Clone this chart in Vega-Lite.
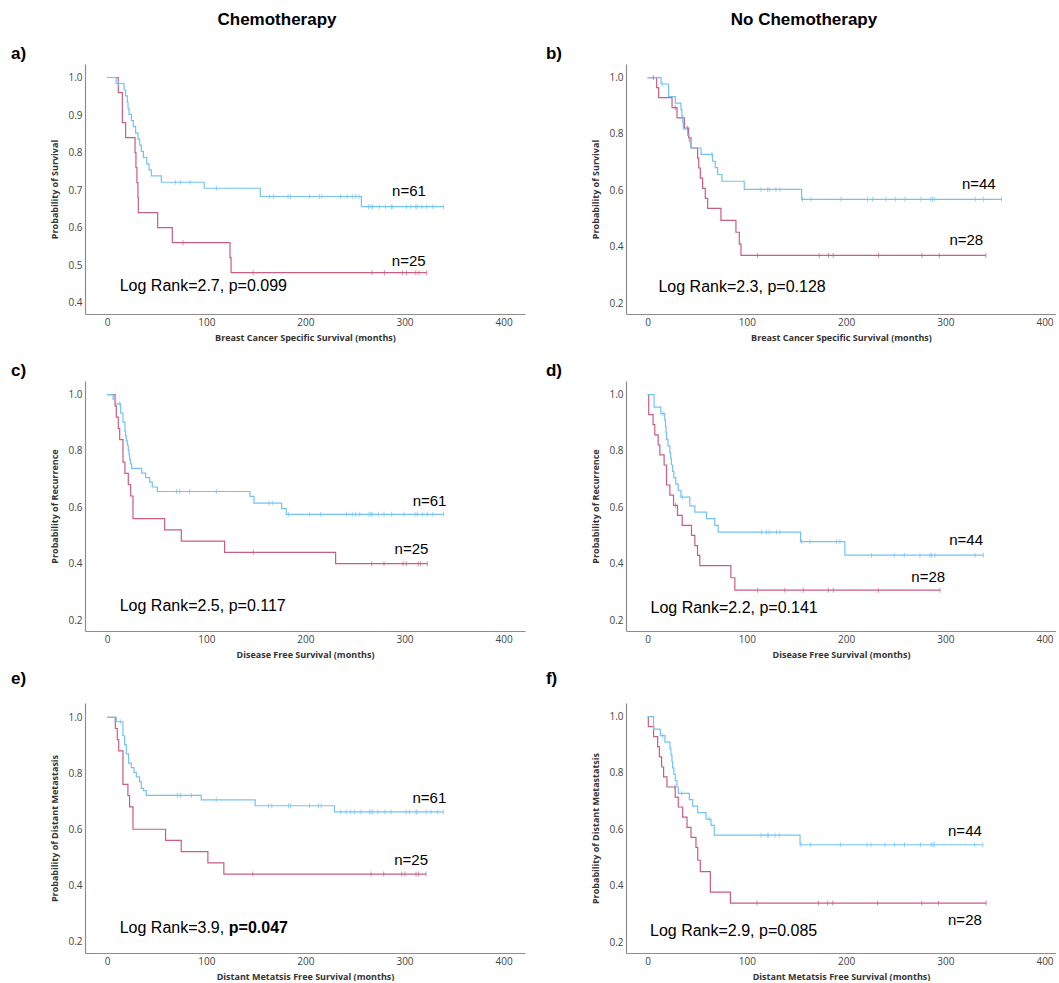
{
"$schema": "https://vega.github.io/schema/vega-lite/v6.json",
"padding": {"left": 10, "top": 5, "right": 0, "bottom": 0},
"config": {
 "view": {"stroke": null},
 "font": "Liberation Sans",
 "axis": {"grid": false, "ticks": false, "domainColor": "#8c8c8c", "domainWidth": 1.2, "labelFont": "Open Sans", "labelFontSize": 10, "labelColor": "#444444", "titleFont": "Open Sans", "titleFontSize": 9, "titleFontWeight": "bold", "titleColor": "#333333", "labelPadding": 3},
 "axisX": {"titlePadding": 6},
 "axisY": {"titlePadding": 8},
 "title": {"font": "Liberation Sans", "fontSize": 17, "fontWeight": "bold", "anchor": "start", "frame": "bounds", "color": "#000000", "baseline": "bottom"},
 "line": {"interpolate": "step-after", "strokeWidth": 1.2},
 "tick": {"orient": "vertical", "size": 5, "thickness": 1},
 "text": {"font": "Liberation Sans", "fontSize": 15, "color": "#000000", "baseline": "middle"}
},
"datasets": {
 "curves": [
  {"p":"a","g":"g2","t":0,"s":1},{"p":"a","g":"g2","t":11.2,"s":0.96},{"p":"a","g":"g2","t":15.3,"s":0.88},{"p":"a","g":"g2","t":18.6,"s":0.84},{"p":"a","g":"g2","t":28.1,"s":0.80},{"p":"a","g":"g2","t":29,"s":0.76},{"p":"a","g":"g2","t":30,"s":0.72},{"p":"a","g":"g2","t":31,"s":0.68},{"p":"a","g":"g2","t":31.4,"s":0.64},{"p":"a","g":"g2","t":50.9,"s":0.60},{"p":"a","g":"g2","t":65.7,"s":0.56},{"p":"a","g":"g2","t":123.9,"s":0.52},{"p":"a","g":"g2","t":125,"s":0.48},{"p":"a","g":"g2","t":322.4,"s":0.48},
  {"p":"a","g":"g1","t":0,"s":1},{"p":"a","g":"g1","t":9,"s":0.984},{"p":"a","g":"g1","t":17,"s":0.967},{"p":"a","g":"g1","t":18.6,"s":0.951},{"p":"a","g":"g1","t":20.3,"s":0.934},{"p":"a","g":"g1","t":21,"s":0.918},{"p":"a","g":"g1","t":22,"s":0.902},{"p":"a","g":"g1","t":24.4,"s":0.885},{"p":"a","g":"g1","t":26.4,"s":0.869},{"p":"a","g":"g1","t":28.7,"s":0.852},{"p":"a","g":"g1","t":31.1,"s":0.836},{"p":"a","g":"g1","t":32.8,"s":0.820},{"p":"a","g":"g1","t":34.4,"s":0.803},{"p":"a","g":"g1","t":36.5,"s":0.787},{"p":"a","g":"g1","t":39.8,"s":0.770},{"p":"a","g":"g1","t":42.2,"s":0.754},{"p":"a","g":"g1","t":44.5,"s":0.738},{"p":"a","g":"g1","t":54.6,"s":0.721},{"p":"a","g":"g1","t":97.9,"s":0.705},{"p":"a","g":"g1","t":154.5,"s":0.683},{"p":"a","g":"g1","t":256.5,"s":0.656},{"p":"a","g":"g1","t":339.4,"s":0.656},
  {"p":"b","g":"g2","t":0,"s":1},{"p":"b","g":"g2","t":9.1,"s":0.964},{"p":"b","g":"g2","t":11.1,"s":0.929},{"p":"b","g":"g2","t":24.6,"s":0.893},{"p":"b","g":"g2","t":29.6,"s":0.857},{"p":"b","g":"g2","t":37,"s":0.821},{"p":"b","g":"g2","t":41.3,"s":0.786},{"p":"b","g":"g2","t":43.7,"s":0.75},{"p":"b","g":"g2","t":50.4,"s":0.714},{"p":"b","g":"g2","t":51.5,"s":0.679},{"p":"b","g":"g2","t":53.1,"s":0.643},{"p":"b","g":"g2","t":55.4,"s":0.607},{"p":"b","g":"g2","t":58.1,"s":0.571},{"p":"b","g":"g2","t":60.5,"s":0.536},{"p":"b","g":"g2","t":73.9,"s":0.493},{"p":"b","g":"g2","t":89,"s":0.451},{"p":"b","g":"g2","t":92.4,"s":0.41},{"p":"b","g":"g2","t":94.1,"s":0.369},{"p":"b","g":"g2","t":340.9,"s":0.369},
  {"p":"b","g":"g1","t":0,"s":1},{"p":"b","g":"g1","t":13.5,"s":0.977},{"p":"b","g":"g1","t":21,"s":0.955},{"p":"b","g":"g1","t":21.2,"s":0.932},{"p":"b","g":"g1","t":27.9,"s":0.909},{"p":"b","g":"g1","t":33.6,"s":0.886},{"p":"b","g":"g1","t":34.5,"s":0.864},{"p":"b","g":"g1","t":35.3,"s":0.841},{"p":"b","g":"g1","t":36,"s":0.818},{"p":"b","g":"g1","t":40.3,"s":0.795},{"p":"b","g":"g1","t":42,"s":0.773},{"p":"b","g":"g1","t":43.7,"s":0.75},{"p":"b","g":"g1","t":53.8,"s":0.727},{"p":"b","g":"g1","t":65.5,"s":0.703},{"p":"b","g":"g1","t":68.2,"s":0.68},{"p":"b","g":"g1","t":70.6,"s":0.656},{"p":"b","g":"g1","t":74.9,"s":0.632},{"p":"b","g":"g1","t":97.4,"s":0.603},{"p":"b","g":"g1","t":155.2,"s":0.568},{"p":"b","g":"g1","t":356.7,"s":0.568},
  {"p":"c","g":"g2","t":0,"s":1},{"p":"c","g":"g2","t":7.9,"s":0.96},{"p":"c","g":"g2","t":9.2,"s":0.92},{"p":"c","g":"g2","t":11.2,"s":0.88},{"p":"c","g":"g2","t":12.6,"s":0.84},{"p":"c","g":"g2","t":15.9,"s":0.76},{"p":"c","g":"g2","t":17.9,"s":0.72},{"p":"c","g":"g2","t":21.3,"s":0.68},{"p":"c","g":"g2","t":23.7,"s":0.64},{"p":"c","g":"g2","t":26,"s":0.56},{"p":"c","g":"g2","t":58,"s":0.52},{"p":"c","g":"g2","t":74.8,"s":0.48},{"p":"c","g":"g2","t":118.5,"s":0.44},{"p":"c","g":"g2","t":230.5,"s":0.40},{"p":"c","g":"g2","t":323,"s":0.40},
  {"p":"c","g":"g1","t":0,"s":1},{"p":"c","g":"g1","t":5.9,"s":0.984},{"p":"c","g":"g1","t":8.5,"s":0.967},{"p":"c","g":"g1","t":13.6,"s":0.934},{"p":"c","g":"g1","t":15.9,"s":0.902},{"p":"c","g":"g1","t":17.9,"s":0.869},{"p":"c","g":"g1","t":18.6,"s":0.852},{"p":"c","g":"g1","t":19.3,"s":0.836},{"p":"c","g":"g1","t":20.3,"s":0.820},{"p":"c","g":"g1","t":21.3,"s":0.803},{"p":"c","g":"g1","t":22,"s":0.787},{"p":"c","g":"g1","t":22.7,"s":0.770},{"p":"c","g":"g1","t":23.5,"s":0.754},{"p":"c","g":"g1","t":24.7,"s":0.738},{"p":"c","g":"g1","t":34.8,"s":0.721},{"p":"c","g":"g1","t":38.8,"s":0.705},{"p":"c","g":"g1","t":42.9,"s":0.689},{"p":"c","g":"g1","t":45.5,"s":0.672},{"p":"c","g":"g1","t":50.6,"s":0.656},{"p":"c","g":"g1","t":144.1,"s":0.639},{"p":"c","g":"g1","t":148.1,"s":0.615},{"p":"c","g":"g1","t":176,"s":0.595},{"p":"c","g":"g1","t":180.7,"s":0.575},{"p":"c","g":"g1","t":339.4,"s":0.575},
  {"p":"d","g":"g2","t":0,"s":1},{"p":"d","g":"g2","t":1.1,"s":0.929},{"p":"d","g":"g2","t":5.5,"s":0.893},{"p":"d","g":"g2","t":7.2,"s":0.857},{"p":"d","g":"g2","t":10.6,"s":0.821},{"p":"d","g":"g2","t":12.3,"s":0.786},{"p":"d","g":"g2","t":16.6,"s":0.75},{"p":"d","g":"g2","t":19,"s":0.679},{"p":"d","g":"g2","t":22.4,"s":0.643},{"p":"d","g":"g2","t":26.1,"s":0.607},{"p":"d","g":"g2","t":30.1,"s":0.571},{"p":"d","g":"g2","t":34.8,"s":0.536},{"p":"d","g":"g2","t":44.2,"s":0.50},{"p":"d","g":"g2","t":47.6,"s":0.464},{"p":"d","g":"g2","t":50.3,"s":0.429},{"p":"d","g":"g2","t":52.6,"s":0.393},{"p":"d","g":"g2","t":83.9,"s":0.35},{"p":"d","g":"g2","t":87.9,"s":0.306},{"p":"d","g":"g2","t":294.7,"s":0.306},
  {"p":"d","g":"g1","t":0,"s":1},{"p":"d","g":"g1","t":6.5,"s":0.955},{"p":"d","g":"g1","t":13.3,"s":0.932},{"p":"d","g":"g1","t":17.3,"s":0.909},{"p":"d","g":"g1","t":18,"s":0.886},{"p":"d","g":"g1","t":18.5,"s":0.864},{"p":"d","g":"g1","t":19,"s":0.841},{"p":"d","g":"g1","t":20.5,"s":0.818},{"p":"d","g":"g1","t":22.4,"s":0.795},{"p":"d","g":"g1","t":23.2,"s":0.773},{"p":"d","g":"g1","t":24,"s":0.75},{"p":"d","g":"g1","t":25.2,"s":0.727},{"p":"d","g":"g1","t":26.4,"s":0.705},{"p":"d","g":"g1","t":28.4,"s":0.682},{"p":"d","g":"g1","t":30.8,"s":0.659},{"p":"d","g":"g1","t":33.5,"s":0.636},{"p":"d","g":"g1","t":42.5,"s":0.605},{"p":"d","g":"g1","t":47.6,"s":0.583},{"p":"d","g":"g1","t":59.3,"s":0.56},{"p":"d","g":"g1","t":67.7,"s":0.536},{"p":"d","g":"g1","t":71.1,"s":0.512},{"p":"d","g":"g1","t":154.2,"s":0.478},{"p":"d","g":"g1","t":198.8,"s":0.43},{"p":"d","g":"g1","t":338.4,"s":0.43},
  {"p":"e","g":"g2","t":0,"s":1},{"p":"e","g":"g2","t":8.2,"s":0.96},{"p":"e","g":"g2","t":10.2,"s":0.92},{"p":"e","g":"g2","t":11.6,"s":0.88},{"p":"e","g":"g2","t":15.9,"s":0.76},{"p":"e","g":"g2","t":20.9,"s":0.72},{"p":"e","g":"g2","t":22.6,"s":0.68},{"p":"e","g":"g2","t":26,"s":0.60},{"p":"e","g":"g2","t":58.9,"s":0.56},{"p":"e","g":"g2","t":74.7,"s":0.52},{"p":"e","g":"g2","t":101.6,"s":0.48},{"p":"e","g":"g2","t":117.7,"s":0.44},{"p":"e","g":"g2","t":321.7,"s":0.44},
  {"p":"e","g":"g1","t":0,"s":1},{"p":"e","g":"g1","t":9.2,"s":0.984},{"p":"e","g":"g1","t":15.9,"s":0.934},{"p":"e","g":"g1","t":17.6,"s":0.902},{"p":"e","g":"g1","t":19.3,"s":0.869},{"p":"e","g":"g1","t":21.6,"s":0.836},{"p":"e","g":"g1","t":24.3,"s":0.820},{"p":"e","g":"g1","t":27,"s":0.803},{"p":"e","g":"g1","t":29.4,"s":0.787},{"p":"e","g":"g1","t":32.7,"s":0.770},{"p":"e","g":"g1","t":34.4,"s":0.746},{"p":"e","g":"g1","t":36.7,"s":0.738},{"p":"e","g":"g1","t":39.4,"s":0.721},{"p":"e","g":"g1","t":94.9,"s":0.705},{"p":"e","g":"g1","t":149.3,"s":0.684},{"p":"e","g":"g1","t":229.3,"s":0.662},{"p":"e","g":"g1","t":339.1,"s":0.662},
  {"p":"f","g":"g2","t":0,"s":1},{"p":"f","g":"g2","t":0.7,"s":0.964},{"p":"f","g":"g2","t":6,"s":0.929},{"p":"f","g":"g2","t":10.1,"s":0.893},{"p":"f","g":"g2","t":11.8,"s":0.857},{"p":"f","g":"g2","t":14.1,"s":0.821},{"p":"f","g":"g2","t":16.1,"s":0.786},{"p":"f","g":"g2","t":19.5,"s":0.75},{"p":"f","g":"g2","t":27.8,"s":0.714},{"p":"f","g":"g2","t":30.9,"s":0.679},{"p":"f","g":"g2","t":35.3,"s":0.643},{"p":"f","g":"g2","t":39.7,"s":0.607},{"p":"f","g":"g2","t":43.7,"s":0.571},{"p":"f","g":"g2","t":48.7,"s":0.536},{"p":"f","g":"g2","t":50.5,"s":0.49},{"p":"f","g":"g2","t":53.1,"s":0.45},{"p":"f","g":"g2","t":63.2,"s":0.377},{"p":"f","g":"g2","t":83.4,"s":0.338},{"p":"f","g":"g2","t":341.2,"s":0.338},
  {"p":"f","g":"g1","t":0,"s":1},{"p":"f","g":"g1","t":6,"s":0.955},{"p":"f","g":"g1","t":12.8,"s":0.932},{"p":"f","g":"g1","t":17.5,"s":0.909},{"p":"f","g":"g1","t":22.5,"s":0.886},{"p":"f","g":"g1","t":23.5,"s":0.864},{"p":"f","g":"g1","t":24.5,"s":0.841},{"p":"f","g":"g1","t":25.2,"s":0.818},{"p":"f","g":"g1","t":26.5,"s":0.795},{"p":"f","g":"g1","t":27.9,"s":0.773},{"p":"f","g":"g1","t":29.5,"s":0.75},{"p":"f","g":"g1","t":30.9,"s":0.727},{"p":"f","g":"g1","t":42,"s":0.705},{"p":"f","g":"g1","t":45.4,"s":0.682},{"p":"f","g":"g1","t":50.4,"s":0.659},{"p":"f","g":"g1","t":58.8,"s":0.636},{"p":"f","g":"g1","t":63.9,"s":0.614},{"p":"f","g":"g1","t":67.2,"s":0.579},{"p":"f","g":"g1","t":153.6,"s":0.545},{"p":"f","g":"g1","t":337.9,"s":0.545}
 ],
 "censors": [
  {"p":"a","g":"g2","t":76.5,"s":0.56},{"p":"a","g":"g2","t":147.3,"s":0.48},{"p":"a","g":"g2","t":267.1,"s":0.48},{"p":"a","g":"g2","t":279.7,"s":0.48},{"p":"a","g":"g2","t":297.8,"s":0.48},{"p":"a","g":"g2","t":301.9,"s":0.48},{"p":"a","g":"g2","t":311.4,"s":0.48},{"p":"a","g":"g2","t":314.5,"s":0.48},{"p":"a","g":"g2","t":322.4,"s":0.48},
  {"p":"a","g":"g1","t":11.5,"s":0.984},{"p":"a","g":"g1","t":68.9,"s":0.721},{"p":"a","g":"g1","t":74,"s":0.721},{"p":"a","g":"g1","t":83.6,"s":0.721},{"p":"a","g":"g1","t":110.2,"s":0.705},{"p":"a","g":"g1","t":163.7,"s":0.683},{"p":"a","g":"g1","t":167.8,"s":0.683},{"p":"a","g":"g1","t":182.5,"s":0.683},{"p":"a","g":"g1","t":184.9,"s":0.683},{"p":"a","g":"g1","t":204,"s":0.683},{"p":"a","g":"g1","t":214.2,"s":0.683},{"p":"a","g":"g1","t":216.6,"s":0.683},{"p":"a","g":"g1","t":235.4,"s":0.683},{"p":"a","g":"g1","t":242.2,"s":0.683},{"p":"a","g":"g1","t":247.3,"s":0.683},{"p":"a","g":"g1","t":250.8,"s":0.683},{"p":"a","g":"g1","t":254.1,"s":0.683},{"p":"a","g":"g1","t":263.7,"s":0.656},{"p":"a","g":"g1","t":266.1,"s":0.656},{"p":"a","g":"g1","t":267.8,"s":0.656},{"p":"a","g":"g1","t":274.6,"s":0.656},{"p":"a","g":"g1","t":280.8,"s":0.656},{"p":"a","g":"g1","t":286.6,"s":0.656},{"p":"a","g":"g1","t":287.6,"s":0.656},{"p":"a","g":"g1","t":301.9,"s":0.656},{"p":"a","g":"g1","t":306.4,"s":0.656},{"p":"a","g":"g1","t":311.4,"s":0.656},{"p":"a","g":"g1","t":312.8,"s":0.656},{"p":"a","g":"g1","t":317.3,"s":0.656},{"p":"a","g":"g1","t":322.4,"s":0.656},{"p":"a","g":"g1","t":328.5,"s":0.656},{"p":"a","g":"g1","t":339.4,"s":0.656},
  {"p":"b","g":"g2","t":5.7,"s":1},{"p":"b","g":"g2","t":27.9,"s":0.893},{"p":"b","g":"g2","t":40.3,"s":0.821},{"p":"b","g":"g2","t":110.9,"s":0.369},{"p":"b","g":"g2","t":172.9,"s":0.369},{"p":"b","g":"g2","t":182.3,"s":0.369},{"p":"b","g":"g2","t":187,"s":0.369},{"p":"b","g":"g2","t":232.8,"s":0.369},{"p":"b","g":"g2","t":276.5,"s":0.369},{"p":"b","g":"g2","t":293.9,"s":0.369},{"p":"b","g":"g2","t":340.9,"s":0.369},
  {"p":"b","g":"g1","t":15.1,"s":0.977},{"p":"b","g":"g1","t":64.8,"s":0.727},{"p":"b","g":"g1","t":114.2,"s":0.603},{"p":"b","g":"g1","t":120.9,"s":0.603},{"p":"b","g":"g1","t":122.6,"s":0.603},{"p":"b","g":"g1","t":129.3,"s":0.603},{"p":"b","g":"g1","t":133.4,"s":0.603},{"p":"b","g":"g1","t":156.2,"s":0.568},{"p":"b","g":"g1","t":164.6,"s":0.568},{"p":"b","g":"g1","t":194.8,"s":0.568},{"p":"b","g":"g1","t":221.7,"s":0.568},{"p":"b","g":"g1","t":226.7,"s":0.568},{"p":"b","g":"g1","t":240.2,"s":0.568},{"p":"b","g":"g1","t":249.6,"s":0.568},{"p":"b","g":"g1","t":259.3,"s":0.568},{"p":"b","g":"g1","t":275.4,"s":0.568},{"p":"b","g":"g1","t":285.5,"s":0.568},{"p":"b","g":"g1","t":287.2,"s":0.568},{"p":"b","g":"g1","t":288.9,"s":0.568},{"p":"b","g":"g1","t":330.2,"s":0.568},{"p":"b","g":"g1","t":338.6,"s":0.568},{"p":"b","g":"g1","t":356.7,"s":0.568},
  {"p":"c","g":"g2","t":147.4,"s":0.44},{"p":"c","g":"g2","t":266.9,"s":0.4},{"p":"c","g":"g2","t":279.3,"s":0.4},{"p":"c","g":"g2","t":298.5,"s":0.4},{"p":"c","g":"g2","t":301.8,"s":0.4},{"p":"c","g":"g2","t":314,"s":0.4},{"p":"c","g":"g2","t":316.3,"s":0.4},{"p":"c","g":"g2","t":323,"s":0.4},
  {"p":"c","g":"g1","t":12.6,"s":0.967},{"p":"c","g":"g1","t":69.8,"s":0.656},{"p":"c","g":"g1","t":73.1,"s":0.656},{"p":"c","g":"g1","t":83.2,"s":0.656},{"p":"c","g":"g1","t":110.1,"s":0.656},{"p":"c","g":"g1","t":163.3,"s":0.615},{"p":"c","g":"g1","t":166.6,"s":0.615},{"p":"c","g":"g1","t":182.8,"s":0.575},{"p":"c","g":"g1","t":204.3,"s":0.575},{"p":"c","g":"g1","t":215.4,"s":0.575},{"p":"c","g":"g1","t":241.3,"s":0.575},{"p":"c","g":"g1","t":247.4,"s":0.575},{"p":"c","g":"g1","t":250.7,"s":0.575},{"p":"c","g":"g1","t":254.8,"s":0.575},{"p":"c","g":"g1","t":264.2,"s":0.575},{"p":"c","g":"g1","t":265.9,"s":0.575},{"p":"c","g":"g1","t":267.5,"s":0.575},{"p":"c","g":"g1","t":273.6,"s":0.575},{"p":"c","g":"g1","t":279.3,"s":0.575},{"p":"c","g":"g1","t":287,"s":0.575},{"p":"c","g":"g1","t":299.5,"s":0.575},{"p":"c","g":"g1","t":310.6,"s":0.575},{"p":"c","g":"g1","t":312.9,"s":0.575},{"p":"c","g":"g1","t":318,"s":0.575},{"p":"c","g":"g1","t":323,"s":0.575},{"p":"c","g":"g1","t":328.5,"s":0.575},{"p":"c","g":"g1","t":339.4,"s":0.575},
  {"p":"d","g":"g2","t":28.1,"s":0.607},{"p":"d","g":"g2","t":110.8,"s":0.306},{"p":"d","g":"g2","t":138.3,"s":0.306},{"p":"d","g":"g2","t":156.8,"s":0.306},{"p":"d","g":"g2","t":182,"s":0.306},{"p":"d","g":"g2","t":187.1,"s":0.306},{"p":"d","g":"g2","t":232.5,"s":0.306},{"p":"d","g":"g2","t":294.7,"s":0.306},
  {"p":"d","g":"g1","t":15.6,"s":0.932},{"p":"d","g":"g1","t":35.1,"s":0.636},{"p":"d","g":"g1","t":114.8,"s":0.512},{"p":"d","g":"g1","t":119.8,"s":0.512},{"p":"d","g":"g1","t":122.5,"s":0.512},{"p":"d","g":"g1","t":129.9,"s":0.512},{"p":"d","g":"g1","t":133.3,"s":0.512},{"p":"d","g":"g1","t":155.2,"s":0.478},{"p":"d","g":"g1","t":163.6,"s":0.478},{"p":"d","g":"g1","t":190.5,"s":0.478},{"p":"d","g":"g1","t":193.8,"s":0.478},{"p":"d","g":"g1","t":225.7,"s":0.43},{"p":"d","g":"g1","t":248.6,"s":0.43},{"p":"d","g":"g1","t":258.7,"s":0.43},{"p":"d","g":"g1","t":274.5,"s":0.43},{"p":"d","g":"g1","t":284.5,"s":0.43},{"p":"d","g":"g1","t":286.2,"s":0.43},{"p":"d","g":"g1","t":289.6,"s":0.43},{"p":"d","g":"g1","t":330,"s":0.43},{"p":"d","g":"g1","t":338.4,"s":0.43},
  {"p":"e","g":"g2","t":147,"s":0.44},{"p":"e","g":"g2","t":266.3,"s":0.44},{"p":"e","g":"g2","t":279,"s":0.44},{"p":"e","g":"g2","t":297.2,"s":0.44},{"p":"e","g":"g2","t":300.5,"s":0.44},{"p":"e","g":"g2","t":311.6,"s":0.44},{"p":"e","g":"g2","t":314,"s":0.44},{"p":"e","g":"g2","t":321.7,"s":0.44},
  {"p":"e","g":"g1","t":13.6,"s":0.984},{"p":"e","g":"g1","t":70.7,"s":0.721},{"p":"e","g":"g1","t":74,"s":0.721},{"p":"e","g":"g1","t":85.1,"s":0.721},{"p":"e","g":"g1","t":110,"s":0.705},{"p":"e","g":"g1","t":162.8,"s":0.684},{"p":"e","g":"g1","t":166.1,"s":0.684},{"p":"e","g":"g1","t":182.9,"s":0.684},{"p":"e","g":"g1","t":184.9,"s":0.684},{"p":"e","g":"g1","t":204.1,"s":0.684},{"p":"e","g":"g1","t":213.2,"s":0.684},{"p":"e","g":"g1","t":215.9,"s":0.684},{"p":"e","g":"g1","t":235.3,"s":0.662},{"p":"e","g":"g1","t":241.1,"s":0.662},{"p":"e","g":"g1","t":245.4,"s":0.662},{"p":"e","g":"g1","t":249.5,"s":0.662},{"p":"e","g":"g1","t":256.2,"s":0.662},{"p":"e","g":"g1","t":264.6,"s":0.662},{"p":"e","g":"g1","t":266.3,"s":0.662},{"p":"e","g":"g1","t":268,"s":0.662},{"p":"e","g":"g1","t":273,"s":0.662},{"p":"e","g":"g1","t":280.4,"s":0.662},{"p":"e","g":"g1","t":286.4,"s":0.662},{"p":"e","g":"g1","t":301.6,"s":0.662},{"p":"e","g":"g1","t":305,"s":0.662},{"p":"e","g":"g1","t":311.7,"s":0.662},{"p":"e","g":"g1","t":312.7,"s":0.662},{"p":"e","g":"g1","t":321.7,"s":0.662},{"p":"e","g":"g1","t":326.8,"s":0.662},{"p":"e","g":"g1","t":333.5,"s":0.662},{"p":"e","g":"g1","t":339.1,"s":0.662},
  {"p":"f","g":"g2","t":27.6,"s":0.75},{"p":"f","g":"g2","t":110.3,"s":0.338},{"p":"f","g":"g2","t":172.1,"s":0.338},{"p":"f","g":"g2","t":181.5,"s":0.338},{"p":"f","g":"g2","t":186.6,"s":0.338},{"p":"f","g":"g2","t":231.9,"s":0.338},{"p":"f","g":"g2","t":276.3,"s":0.338},{"p":"f","g":"g2","t":293.1,"s":0.338},{"p":"f","g":"g2","t":341.2,"s":0.338},
  {"p":"f","g":"g1","t":15.1,"s":0.932},{"p":"f","g":"g1","t":34.3,"s":0.727},{"p":"f","g":"g1","t":62,"s":0.636},{"p":"f","g":"g1","t":114.3,"s":0.579},{"p":"f","g":"g1","t":120.4,"s":0.579},{"p":"f","g":"g1","t":121.7,"s":0.579},{"p":"f","g":"g1","t":128.4,"s":0.579},{"p":"f","g":"g1","t":132.8,"s":0.579},{"p":"f","g":"g1","t":154.6,"s":0.545},{"p":"f","g":"g1","t":164,"s":0.545},{"p":"f","g":"g1","t":194.3,"s":0.545},{"p":"f","g":"g1","t":221.2,"s":0.545},{"p":"f","g":"g1","t":225.2,"s":0.545},{"p":"f","g":"g1","t":239.4,"s":0.545},{"p":"f","g":"g1","t":248.8,"s":0.545},{"p":"f","g":"g1","t":258.9,"s":0.545},{"p":"f","g":"g1","t":275,"s":0.545},{"p":"f","g":"g1","t":285.8,"s":0.545},{"p":"f","g":"g1","t":287.5,"s":0.545},{"p":"f","g":"g1","t":289.1,"s":0.545},{"p":"f","g":"g1","t":329.5,"s":0.545},{"p":"f","g":"g1","t":337.9,"s":0.545}
 ],
 "labels": [
  {"p":"a","k":"c","t":304.5,"s":0.699,"label":"n=61"},{"p":"a","k":"c","t":304.3,"s":0.51,"label":"n=25"},{"p":"a","k":"l","t":12.6,"s":0.445,"label":"Log Rank=2.7, p=0.099"},
  {"p":"b","k":"c","t":333.8,"s":0.621,"label":"n=44"},{"p":"b","k":"c","t":321.2,"s":0.422,"label":"n=28"},{"p":"b","k":"l","t":10.9,"s":0.258,"label":"Log Rank=2.3, p=0.128"},
  {"p":"c","k":"c","t":325.3,"s":0.621,"label":"n=61"},{"p":"c","k":"c","t":307,"s":0.451,"label":"n=25"},{"p":"c","k":"l","t":12.6,"s":0.248,"label":"Log Rank=2.5, p=0.117"},
  {"p":"d","k":"c","t":321,"s":0.483,"label":"n=44"},{"p":"d","k":"c","t":282.8,"s":0.354,"label":"n=28"},{"p":"d","k":"l","t":2.9,"s":0.242,"label":"Log Rank=2.2, p=0.141"},
  {"p":"e","k":"c","t":325.1,"s":0.713,"label":"n=61"},{"p":"e","k":"c","t":306.7,"s":0.491,"label":"n=25"},{"p":"e","k":"l","t":12.6,"s":0.246,"label":"Log Rank=3.9,"},{"p":"e","k":"b","t":122.7,"s":0.246,"label":"p=0.047"},
  {"p":"f","k":"c","t":319.8,"s":0.595,"label":"n=44"},{"p":"f","k":"c","t":319.8,"s":0.278,"label":"n=28"},{"p":"f","k":"l","t":2.4,"s":0.24,"label":"Log Rank=2.9, p=0.085"}
 ],
 "heads": [{"h":"Chemotherapy"},{"h":"No Chemotherapy"}]
},
"spacing": 11,
"vconcat": [
 {"spacing": 10, "vconcat": [
  {"spacing": 0, "hconcat": [
   {"width": 440, "height": 30, "data": {"name": "heads"}, "transform": [{"filter": "datum.h == 'Chemotherapy'"}], "mark": {"type": "text", "fontSize": 17, "fontWeight": "bold", "dx": -28}, "encoding": {"text": {"field": "h"}}},
   {"width": 460, "height": 30, "data": {"name": "heads"}, "transform": [{"filter": "datum.h == 'No Chemotherapy'"}], "mark": {"type": "text", "fontSize": 17, "fontWeight": "bold", "dx": 49}, "encoding": {"text": {"field": "h"}}}
  ]},
  {"spacing": 20, "vconcat": [
   {"spacing": 20, "hconcat": [
    {"width": 440, "height": 250, "title": {"text": "a)", "dx": -40, "offset": 1},
     "encoding": {
      "x": {"field": "t", "type": "quantitative", "scale": {"domain": [-22.4, 421.6], "nice": false, "zero": false}, "axis": {"values": [0,100,200,300,400], "title": "Breast Cancer Specific Survival (months)"}},
      "y": {"field": "s", "type": "quantitative", "scale": {"domain": [0.37, 1.036], "nice": false, "zero": false}, "axis": {"values": [0.4,0.5,0.6,0.7,0.8,0.9,1.0], "format": ".1f", "title": "Probability of Survival"}},
      "color": {"field": "g", "type": "nominal", "scale": {"domain": ["g1","g2"], "range": ["#74c2f4","#c85e84"]}, "legend": null}},
     "layer": [
      {"data": {"name": "curves"}, "transform": [{"filter": "datum.p == 'a'"}], "mark": "line"},
      {"data": {"name": "censors"}, "transform": [{"filter": "datum.p == 'a'"}], "mark": "tick"},
      {"data": {"name": "labels"}, "transform": [{"filter": "datum.p == 'a' && datum.k == 'c'"}], "mark": {"type": "text", "align": "center"}, "encoding": {"text": {"field": "label"}, "color": {"value": "#000000"}}},
      {"data": {"name": "labels"}, "transform": [{"filter": "datum.p == 'a' && datum.k == 'l'"}], "mark": {"type": "text", "align": "left", "fontSize": 16}, "encoding": {"text": {"field": "label"}, "color": {"value": "#000000"}}}
     ]},
    {"width": 430, "height": 250, "title": {"text": "b)", "dx": -46, "offset": 1},
     "encoding": {
      "x": {"field": "t", "type": "quantitative", "scale": {"domain": [-21.8, 411.6], "nice": false, "zero": false}, "axis": {"values": [0,100,200,300,400], "title": "Breast Cancer Specific Survival (months)"}},
      "y": {"field": "s", "type": "quantitative", "scale": {"domain": [0.161, 1.048], "nice": false, "zero": false}, "axis": {"values": [0.2,0.4,0.6,0.8,1.0], "format": ".1f", "title": "Probability of Survival"}},
      "color": {"field": "g", "type": "nominal", "scale": {"domain": ["g1","g2"], "range": ["#74c2f4","#c85e84"]}, "legend": null}},
     "layer": [
      {"data": {"name": "curves"}, "transform": [{"filter": "datum.p == 'b'"}], "mark": "line"},
      {"data": {"name": "censors"}, "transform": [{"filter": "datum.p == 'b'"}], "mark": "tick"},
      {"data": {"name": "labels"}, "transform": [{"filter": "datum.p == 'b' && datum.k == 'c'"}], "mark": {"type": "text", "align": "center"}, "encoding": {"text": {"field": "label"}, "color": {"value": "#000000"}}},
      {"data": {"name": "labels"}, "transform": [{"filter": "datum.p == 'b' && datum.k == 'l'"}], "mark": {"type": "text", "align": "left", "fontSize": 16}, "encoding": {"text": {"field": "label"}, "color": {"value": "#000000"}}}
     ]}
   ]},
   {"spacing": 20, "hconcat": [
    {"width": 440, "height": 250, "title": {"text": "c)", "dx": -40, "offset": 1},
     "encoding": {
      "x": {"field": "t", "type": "quantitative", "scale": {"domain": [-22.4, 421.6], "nice": false, "zero": false}, "axis": {"values": [0,100,200,300,400], "title": "Disease Free Survival (months)"}},
      "y": {"field": "s", "type": "quantitative", "scale": {"domain": [0.161, 1.048], "nice": false, "zero": false}, "axis": {"values": [0.2,0.4,0.6,0.8,1.0], "format": ".1f", "title": "Probability of Recurrence"}},
      "color": {"field": "g", "type": "nominal", "scale": {"domain": ["g1","g2"], "range": ["#74c2f4","#c85e84"]}, "legend": null}},
     "layer": [
      {"data": {"name": "curves"}, "transform": [{"filter": "datum.p == 'c'"}], "mark": "line"},
      {"data": {"name": "censors"}, "transform": [{"filter": "datum.p == 'c'"}], "mark": "tick"},
      {"data": {"name": "labels"}, "transform": [{"filter": "datum.p == 'c' && datum.k == 'c'"}], "mark": {"type": "text", "align": "center"}, "encoding": {"text": {"field": "label"}, "color": {"value": "#000000"}}},
      {"data": {"name": "labels"}, "transform": [{"filter": "datum.p == 'c' && datum.k == 'l'"}], "mark": {"type": "text", "align": "left", "fontSize": 16}, "encoding": {"text": {"field": "label"}, "color": {"value": "#000000"}}}
     ]},
    {"width": 430, "height": 250, "title": {"text": "d)", "dx": -46, "offset": 1},
     "encoding": {
      "x": {"field": "t", "type": "quantitative", "scale": {"domain": [-21.8, 411.6], "nice": false, "zero": false}, "axis": {"values": [0,100,200,300,400], "title": "Disease Free Survival (months)"}},
      "y": {"field": "s", "type": "quantitative", "scale": {"domain": [0.161, 1.048], "nice": false, "zero": false}, "axis": {"values": [0.2,0.4,0.6,0.8,1.0], "format": ".1f", "title": "Probability of Recurrence"}},
      "color": {"field": "g", "type": "nominal", "scale": {"domain": ["g1","g2"], "range": ["#74c2f4","#c85e84"]}, "legend": null}},
     "layer": [
      {"data": {"name": "curves"}, "transform": [{"filter": "datum.p == 'd'"}], "mark": "line"},
      {"data": {"name": "censors"}, "transform": [{"filter": "datum.p == 'd'"}], "mark": "tick"},
      {"data": {"name": "labels"}, "transform": [{"filter": "datum.p == 'd' && datum.k == 'c'"}], "mark": {"type": "text", "align": "center"}, "encoding": {"text": {"field": "label"}, "color": {"value": "#000000"}}},
      {"data": {"name": "labels"}, "transform": [{"filter": "datum.p == 'd' && datum.k == 'l'"}], "mark": {"type": "text", "align": "left", "fontSize": 16}, "encoding": {"text": {"field": "label"}, "color": {"value": "#000000"}}}
     ]}
   ]}
  ]}
 ]},
 {"spacing": 20, "hconcat": [
  {"width": 440, "height": 250, "title": {"text": "e)", "dx": -40, "offset": 15},
   "encoding": {
    "x": {"field": "t", "type": "quantitative", "scale": {"domain": [-22.4, 421.6], "nice": false, "zero": false}, "axis": {"values": [0,100,200,300,400], "title": "Distant Metatsis Free Survival (months)"}},
    "y": {"field": "s", "type": "quantitative", "scale": {"domain": [0.158, 1.051], "nice": false, "zero": false}, "axis": {"values": [0.2,0.4,0.6,0.8,1.0], "format": ".1f", "title": "Probability of Distant Metastasis"}},
    "color": {"field": "g", "type": "nominal", "scale": {"domain": ["g1","g2"], "range": ["#74c2f4","#c85e84"]}, "legend": null}},
   "layer": [
    {"data": {"name": "curves"}, "transform": [{"filter": "datum.p == 'e'"}], "mark": "line"},
    {"data": {"name": "censors"}, "transform": [{"filter": "datum.p == 'e'"}], "mark": "tick"},
    {"data": {"name": "labels"}, "transform": [{"filter": "datum.p == 'e' && datum.k == 'c'"}], "mark": {"type": "text", "align": "center"}, "encoding": {"text": {"field": "label"}, "color": {"value": "#000000"}}},
    {"data": {"name": "labels"}, "transform": [{"filter": "datum.p == 'e' && datum.k == 'l'"}], "mark": {"type": "text", "align": "left", "fontSize": 16}, "encoding": {"text": {"field": "label"}, "color": {"value": "#000000"}}},
    {"data": {"name": "labels"}, "transform": [{"filter": "datum.p == 'e' && datum.k == 'b'"}], "mark": {"type": "text", "align": "left", "fontSize": 16, "fontWeight": "bold"}, "encoding": {"text": {"field": "label"}, "color": {"value": "#000000"}}}
   ]},
  {"width": 430, "height": 250, "title": {"text": "f)", "dx": -46, "offset": 15},
   "encoding": {
    "x": {"field": "t", "type": "quantitative", "scale": {"domain": [-21.8, 411.6], "nice": false, "zero": false}, "axis": {"values": [0,100,200,300,400], "title": "Distant Metatsis Free Survival (months)"}},
    "y": {"field": "s", "type": "quantitative", "scale": {"domain": [0.161, 1.048], "nice": false, "zero": false}, "axis": {"values": [0.2,0.4,0.6,0.8,1.0], "format": ".1f", "title": "Probability of Distant Metastatsis"}},
    "color": {"field": "g", "type": "nominal", "scale": {"domain": ["g1","g2"], "range": ["#74c2f4","#c85e84"]}, "legend": null}},
   "layer": [
    {"data": {"name": "curves"}, "transform": [{"filter": "datum.p == 'f'"}], "mark": "line"},
    {"data": {"name": "censors"}, "transform": [{"filter": "datum.p == 'f'"}], "mark": "tick"},
    {"data": {"name": "labels"}, "transform": [{"filter": "datum.p == 'f' && datum.k == 'c'"}], "mark": {"type": "text", "align": "center"}, "encoding": {"text": {"field": "label"}, "color": {"value": "#000000"}}},
    {"data": {"name": "labels"}, "transform": [{"filter": "datum.p == 'f' && datum.k == 'l'"}], "mark": {"type": "text", "align": "left", "fontSize": 16}, "encoding": {"text": {"field": "label"}, "color": {"value": "#000000"}}}
   ]}
 ]}
]
}
